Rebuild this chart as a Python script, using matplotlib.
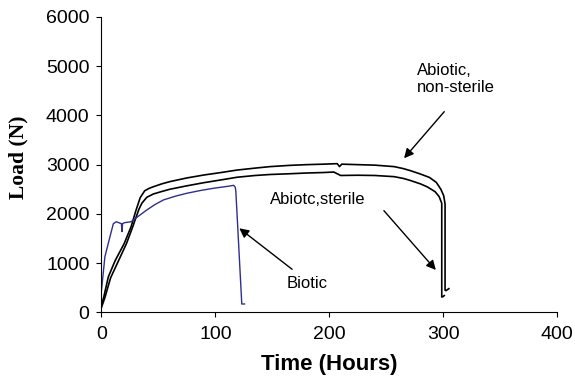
import matplotlib.pyplot as plt

# ── data ──────────────────────────────────────────────────────────────────────
nonsterile_h = [0, 2, 6, 12, 20, 26, 30, 34, 38, 42, 46, 53, 60, 75, 90, 105,
                119, 135, 148, 165, 180, 195, 207, 209, 211, 225, 240, 257,
                265, 271, 280, 288, 294, 298, 300.5, 301.7, 301.7, 302.5, 305]
nonsterile_n = [150, 310, 720, 1050, 1400, 1740, 2050, 2330, 2470, 2520, 2555,
                2610, 2655, 2730, 2790, 2840, 2890, 2930, 2960, 2985, 3000,
                3010, 3020, 2960, 3010, 3000, 2990, 2960, 2920, 2880, 2810,
                2740, 2640, 2500, 2370, 2200, 450, 440, 480]

sterile_h = [0, 3, 8, 14, 22, 27.5, 29.5, 33, 35.4, 39.8, 45.6, 53, 60, 75,
             90, 105, 119, 135, 148, 165, 180, 195, 204, 210, 225, 240, 257,
             265, 271, 280, 286, 293, 296.5, 298.8, 298.8, 300, 301]
sterile_n = [100, 300, 700, 1000, 1400, 1740, 1876, 2100, 2215, 2337, 2404,
             2455, 2500, 2570, 2634, 2690, 2744, 2780, 2800, 2815, 2830, 2840,
             2850, 2780, 2785, 2780, 2756, 2720, 2680, 2610, 2550, 2450, 2350,
             2215, 310, 320, 340]

biotic_h = [0, 3, 7.5, 10.4, 13, 17.5, 18, 18.5, 20, 26, 28, 34, 39.8, 47,
            54.4, 65, 75, 87, 98.4, 113, 116, 117.5, 118, 123.2, 125.6]
biotic_n = [450, 1130, 1540, 1800, 1840, 1800, 1640, 1800, 1820, 1840, 1876,
            1980, 2079, 2190, 2283, 2360, 2419, 2475, 2520, 2567, 2580, 2540,
            2450, 169, 169]

x_ticks = [0, 100, 200, 300, 400]
y_ticks = [0, 1000, 2000, 3000, 4000, 5000, 6000]

# ── plot ──────────────────────────────────────────────────────────────────────
plt.rcParams["font.family"] = ["Liberation Sans", "DejaVu Sans"]

fig = plt.figure(figsize=(5.75, 3.76), dpi=100)
ax = fig.add_axes([0.1765, 0.1694, 0.7922, 0.7854])

ax.plot(nonsterile_h, nonsterile_n, color="black", linewidth=1.2)
ax.plot(sterile_h, sterile_n, color="black", linewidth=1.2)
ax.plot(biotic_h, biotic_n, color="#2e2e8f", linewidth=1.0)

ax.set_xlim(0, 400)
ax.set_ylim(0, 6000)
ax.set_xticks(x_ticks)
ax.set_yticks(y_ticks)
ax.tick_params(direction="out", length=3.6, width=0.8, labelsize=14)
ax.tick_params(axis="x", pad=6)
ax.tick_params(axis="y", pad=5)
for s in ["top", "right"]:
    ax.spines[s].set_visible(False)

ax.set_xlabel("Time (Hours)", fontsize=16, fontweight="bold", va="top")
ax.xaxis.set_label_coords(0.5, -0.14)
ax.set_ylabel("Load (N)", fontsize=15.5, fontweight="bold",
              family="Liberation Serif")
ax.yaxis.set_label_coords(-0.161, 0.526)

arrow = dict(arrowstyle="-|>", color="black", lw=1.0, mutation_scale=14,
             shrinkA=0, shrinkB=0)
ax.annotate("", xy=(265.7, 3130), xytext=(301, 4077), arrowprops=arrow)
ax.text(277, 4823, "Abiotic,", fontsize=12, va="baseline", ha="left")
ax.text(277, 4478, "non-sterile", fontsize=12, va="baseline", ha="left")

ax.annotate("", xy=(293.6, 860), xytext=(248, 2065), arrowprops=arrow)
ax.text(148.3, 2201, "Abiotc,sterile", fontsize=12, va="baseline", ha="left")

ax.annotate("", xy=(121, 1707), xytext=(167.4, 874), arrowprops=arrow)
ax.text(162.4, 494, "Biotic", fontsize=12, va="baseline", ha="left")

fig.savefig("out.png", dpi=100)
